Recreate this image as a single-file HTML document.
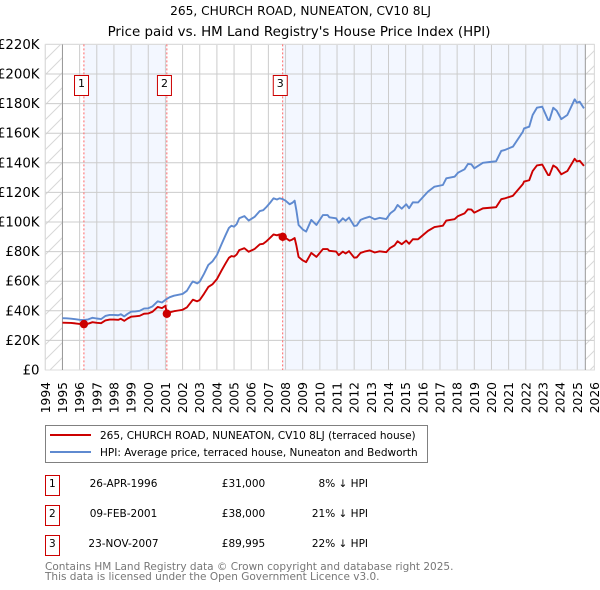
<!DOCTYPE html>
<html>
<head>
<meta charset="utf-8">
<title>265, CHURCH ROAD, NUNEATON, CV10 8LJ</title>
<style>
html,body{margin:0;padding:0;background:#fff;width:600px;height:590px;overflow:hidden}
svg{display:block}
text{font-family:"DejaVu Sans","Liberation Sans",sans-serif;fill:#000}
</style>
</head>
<body>
<svg id="chart" xmlns="http://www.w3.org/2000/svg" width="600" height="590" viewBox="0 0 600 590">
<defs>
<pattern id="hatch" patternUnits="userSpaceOnUse" width="15" height="15">
<path d="M-1 16L16 -1M-1 1L1 -1M14 16L16 14" stroke="#d8d8d8" stroke-width="1" fill="none"/>
</pattern>
</defs>
<text x="300.5" y="15" text-anchor="middle" font-size="12.2">265, CHURCH ROAD, NUNEATON, CV10 8LJ</text>
<text x="299" y="36" text-anchor="middle" font-size="13.4">Price paid vs. HM Land Registry's House Price Index (HPI)</text>
<g id="plot"></g>
<g>
<rect x="45.5" y="425.5" width="382" height="37" fill="#fff" stroke="#808080" stroke-width="1"/>
<line x1="50" x2="91" y1="435" y2="435" stroke="#cc0000" stroke-width="2"/>
<text x="100" y="439" font-size="10.5">265, CHURCH ROAD, NUNEATON, CV10 8LJ (terraced house)</text>
<line x1="50" x2="91" y1="452" y2="452" stroke="#5f8ad0" stroke-width="2"/>
<text x="100" y="456" font-size="10.5">HPI: Average price, terraced house, Nuneaton and Bedworth</text>
</g>
<g>
<g>
<rect x="45.5" y="475.5" width="14" height="20" fill="#fff" stroke="#cc0000" stroke-width="1"/>
<text x="52.3" y="487" text-anchor="middle" font-size="10.5">1</text>
<text x="123.5" y="487" text-anchor="middle" font-size="10.5">26-APR-1996</text>
<text x="243.5" y="487" text-anchor="middle" font-size="10.5">£31,000</text>
<text x="368" y="487" text-anchor="end" font-size="10.5">8% ↓ HPI</text>
</g>
<g>
<rect x="45.5" y="505.5" width="14" height="20" fill="#fff" stroke="#cc0000" stroke-width="1"/>
<text x="52.3" y="517" text-anchor="middle" font-size="10.5">2</text>
<text x="123.5" y="517" text-anchor="middle" font-size="10.5">09-FEB-2001</text>
<text x="243.5" y="517" text-anchor="middle" font-size="10.5">£38,000</text>
<text x="368" y="517" text-anchor="end" font-size="10.5">21% ↓ HPI</text>
</g>
<g>
<rect x="45.5" y="535.5" width="14" height="20" fill="#fff" stroke="#cc0000" stroke-width="1"/>
<text x="52.3" y="547" text-anchor="middle" font-size="10.5">3</text>
<text x="123.5" y="547" text-anchor="middle" font-size="10.5">23-NOV-2007</text>
<text x="243.5" y="547" text-anchor="middle" font-size="10.5">£89,995</text>
<text x="368" y="547" text-anchor="end" font-size="10.5">22% ↓ HPI</text>
</g>
</g>
<text x="45" y="570" font-size="10.5" style="fill:#777">Contains HM Land Registry data © Crown copyright and database right 2025.</text>
<text x="45" y="580" font-size="10.5" style="fill:#777">This data is licensed under the Open Government Licence v3.0.</text>
</svg>
<script>
const yearTicks = [1994,1995,1996,1997,1998,1999,2000,2001,2002,2003,2004,2005,2006,2007,2008,2009,2010,2011,2012,2013,2014,2015,2016,2017,2018,2019,2020,2021,2022,2023,2024,2025,2026];
const valueTicks = [0,20,40,60,80,100,120,140,160,180,200,220];
const dates = [1995.0,1995.25,1995.5,1995.75,1996.0,1996.25,1996.5,1996.75,1997.0,1997.25,1997.5,1997.75,1998.0,1998.25,1998.4,1998.6,1998.8,1999.0,1999.25,1999.5,1999.75,2000.0,2000.25,2000.55,2000.8,2001.0,2001.08,2001.25,2001.5,2001.75,2002.0,2002.25,2002.5,2002.6,2002.85,2003.0,2003.25,2003.5,2003.75,2004.0,2004.25,2004.5,2004.7,2004.85,2005.0,2005.15,2005.3,2005.6,2005.85,2006.2,2006.5,2006.7,2006.9,2007.1,2007.3,2007.5,2007.65,2007.83,2008.0,2008.24,2008.4,2008.53,2008.63,2008.76,2009.0,2009.2,2009.5,2009.8,2010.18,2010.45,2010.55,2010.95,2011.1,2011.34,2011.5,2011.7,2012.0,2012.15,2012.37,2012.6,2012.9,2013.2,2013.48,2013.87,2014.1,2014.35,2014.53,2014.77,2015.03,2015.2,2015.42,2015.72,2015.8,2016.3,2016.68,2017.17,2017.37,2017.85,2018.05,2018.43,2018.63,2018.83,2019.0,2019.5,2020.08,2020.27,2020.57,2020.76,2021.25,2021.83,2021.9,2022.2,2022.4,2022.65,2022.96,2023.3,2023.38,2023.6,2023.8,2024.07,2024.42,2024.85,2024.98,2025.14,2025.39];
const hpiValues = [35,34.9,34.7,34.3,33.9,33.7,34.2,35.3,34.8,34.4,36.5,37.2,37.2,37,37.7,36.2,38,39.4,39.6,40,41.5,41.7,43,46.4,45.6,47.4,48,49.2,50.2,50.8,51.4,53.5,58.3,59.8,58.5,59.7,65,71,73.5,77.7,84.5,91,96,97.5,96.8,98.5,102.5,104,101,103.5,107.4,108,110.3,113,116,115.2,116,115.5,114.4,112,113,114.4,108,98,95,93.5,101.4,98,104.7,104.7,103.2,102.5,99.5,102.5,100.9,103,97.3,97.6,101.4,102.5,103.6,101.8,102.8,102,105.8,108,111.5,109,112,109.3,113.3,113.2,114.2,120.5,123.9,125,129.5,130.6,133.3,135.6,139.2,139,136.3,140,140.8,141,148,148.6,150.9,161,163.2,164.4,172.3,177.2,177.9,168.9,168.9,177.2,175.2,169.5,172.3,182.9,180.6,181.3,176.8];
const priceValues = [32,31.9,31.8,31.5,31.1,31,31.3,32.3,31.9,31.6,33.5,34.1,34.1,33.9,34.6,33.2,34.8,36,36.3,36.6,38,38.2,39.4,42.6,41.8,43.4,38,39,39.7,40.2,40.7,42.3,46,47.5,46.4,47.3,51.5,56.1,58,61.4,66.8,71.9,75.8,77,76.6,78,81,82.3,79.9,81.8,84.9,85.3,87.1,89.3,91.6,91,91.6,89.995,89.2,87.4,88.2,89.2,84.2,76.4,74.1,72.9,79.1,76.4,81.7,81.7,80.5,80,77.6,80,78.7,80.3,75.9,76.1,79.1,80,80.8,79.4,80.2,79.6,82.5,84.2,87,85,87.4,85.3,88.4,88.3,89.1,94,96.6,97.5,101,101.9,104,105.8,108.6,108.4,106.3,109.2,109.8,110,115.4,115.9,117.7,125.6,127.3,128.2,134.4,138.2,138.8,131.7,131.7,138.2,136.7,132.2,134.4,142.7,140.9,141.4,137.9];
const saleLabels = ['1','2','3'];
const saleDates = [1996.32,2001.11,2007.9];
const saleLineDates = [1996.25,2001.083,2007.833];
const salePrices = [31,38,89.995];
const dataStart = 1995;
const dataEnd = 2025.47;

const NS = 'http://www.w3.org/2000/svg';
const plot = document.getElementById('plot');
function xScale(year){ return 45.3 + (year - 1994) * 17.16; }
function yScale(value){ return 370 - value * 1.48; }
function make(tag, attrs){
  const el = document.createElementNS(NS, tag);
  for (const k in attrs) el.setAttribute(k, attrs[k]);
  plot.appendChild(el);
  return el;
}
const x0 = xScale(1994), x1 = xScale(2026), yTop = yScale(220), yBase = yScale(0);

let el = make('rect', {x:xScale(saleLineDates[0]), y:yTop, width:xScale(saleLineDates[1])-xScale(saleLineDates[0]), height:yBase-yTop, fill:'#f3f7ff'});


el = make('rect', {x:xScale(saleLineDates[2]), y:yTop, width:xScale(dataEnd)-xScale(saleLineDates[2]), height:yBase-yTop, fill:'#f3f7ff'});


el = make('rect', {x:x0, y:yTop, width:xScale(dataStart)-x0, height:yBase-yTop, fill:'url(#hatch)'});


el = make('rect', {x:xScale(dataEnd), y:yTop, width:x1-xScale(dataEnd), height:yBase-yTop, fill:'url(#hatch)'});



valueTicks.forEach(function(v){
  const line = make('line', {x1:x0, x2:x1, y1:yScale(v), y2:yScale(v), stroke:'#cccccc', 'stroke-width':1});
  
  
  const label = make('text', {x:39.5, y:yScale(v)+4.5, 'text-anchor':'end', 'font-size':13.3});
  
  
  label.textContent = v === 0 ? '£0' : '£' + v + 'K';
});
yearTicks.forEach(function(y){
  const line = make('line', {x1:xScale(y), x2:xScale(y), y1:yTop, y2:yBase, stroke:'#cccccc', 'stroke-width':1});
  
  
  const lx = xScale(y) + 4.5;
  const label = make('text', {x:lx, y:382, 'text-anchor':'end', 'font-size':12.3, transform:'rotate(-90 ' + lx + ' 382)'});
  
  
  label.textContent = y;
});
el = make('rect', {x:x0, y:yTop, width:x1-x0, height:yBase-yTop, fill:'none', stroke:'#dddddd', 'stroke-width':1});


el = make('line', {x1:xScale(dataStart), x2:xScale(dataStart), y1:yTop, y2:yBase, stroke:'#999999', 'stroke-width':1});


el = make('line', {x1:xScale(dataEnd), x2:xScale(dataEnd), y1:yTop, y2:yBase, stroke:'#999999', 'stroke-width':1});



saleLineDates.forEach(function(d){
  const line = make('line', {x1:xScale(d), x2:xScale(d), y1:yTop, y2:yBase, stroke:'#ff6666', 'stroke-width':1, 'stroke-dasharray':'2 2'});
  
  
});

function pathFrom(values){
  return values.map(function(v, i){ return (i ? 'L' : 'M') + xScale(dates[i]).toFixed(2) + ' ' + yScale(v).toFixed(2); }).join('');
}
el = make('path', {d:pathFrom(hpiValues), fill:'none', stroke:'#5f8ad0', 'stroke-width':1.9, 'stroke-linejoin':'round'});


el = make('path', {d:pathFrom(priceValues), fill:'none', stroke:'#cc0000', 'stroke-width':1.9, 'stroke-linejoin':'round'});



salePrices.forEach(function(p, i){
  const dot = make('circle', {cx:xScale(saleLineDates[i]), cy:yScale(p), r:4.2, fill:'#cc0000'});
  
  
  const cx = xScale(saleLineDates[i]) - 2.4;
  const box = make('rect', {x:cx-7, y:75.5, width:14, height:20, fill:'#fff', stroke:'#cc0000', 'stroke-width':1});
  
  
  const label = make('text', {x:cx, y:87, 'text-anchor':'middle', 'font-size':11});
  
  
  label.textContent = saleLabels[i];
});
</script>
</body>
</html>
